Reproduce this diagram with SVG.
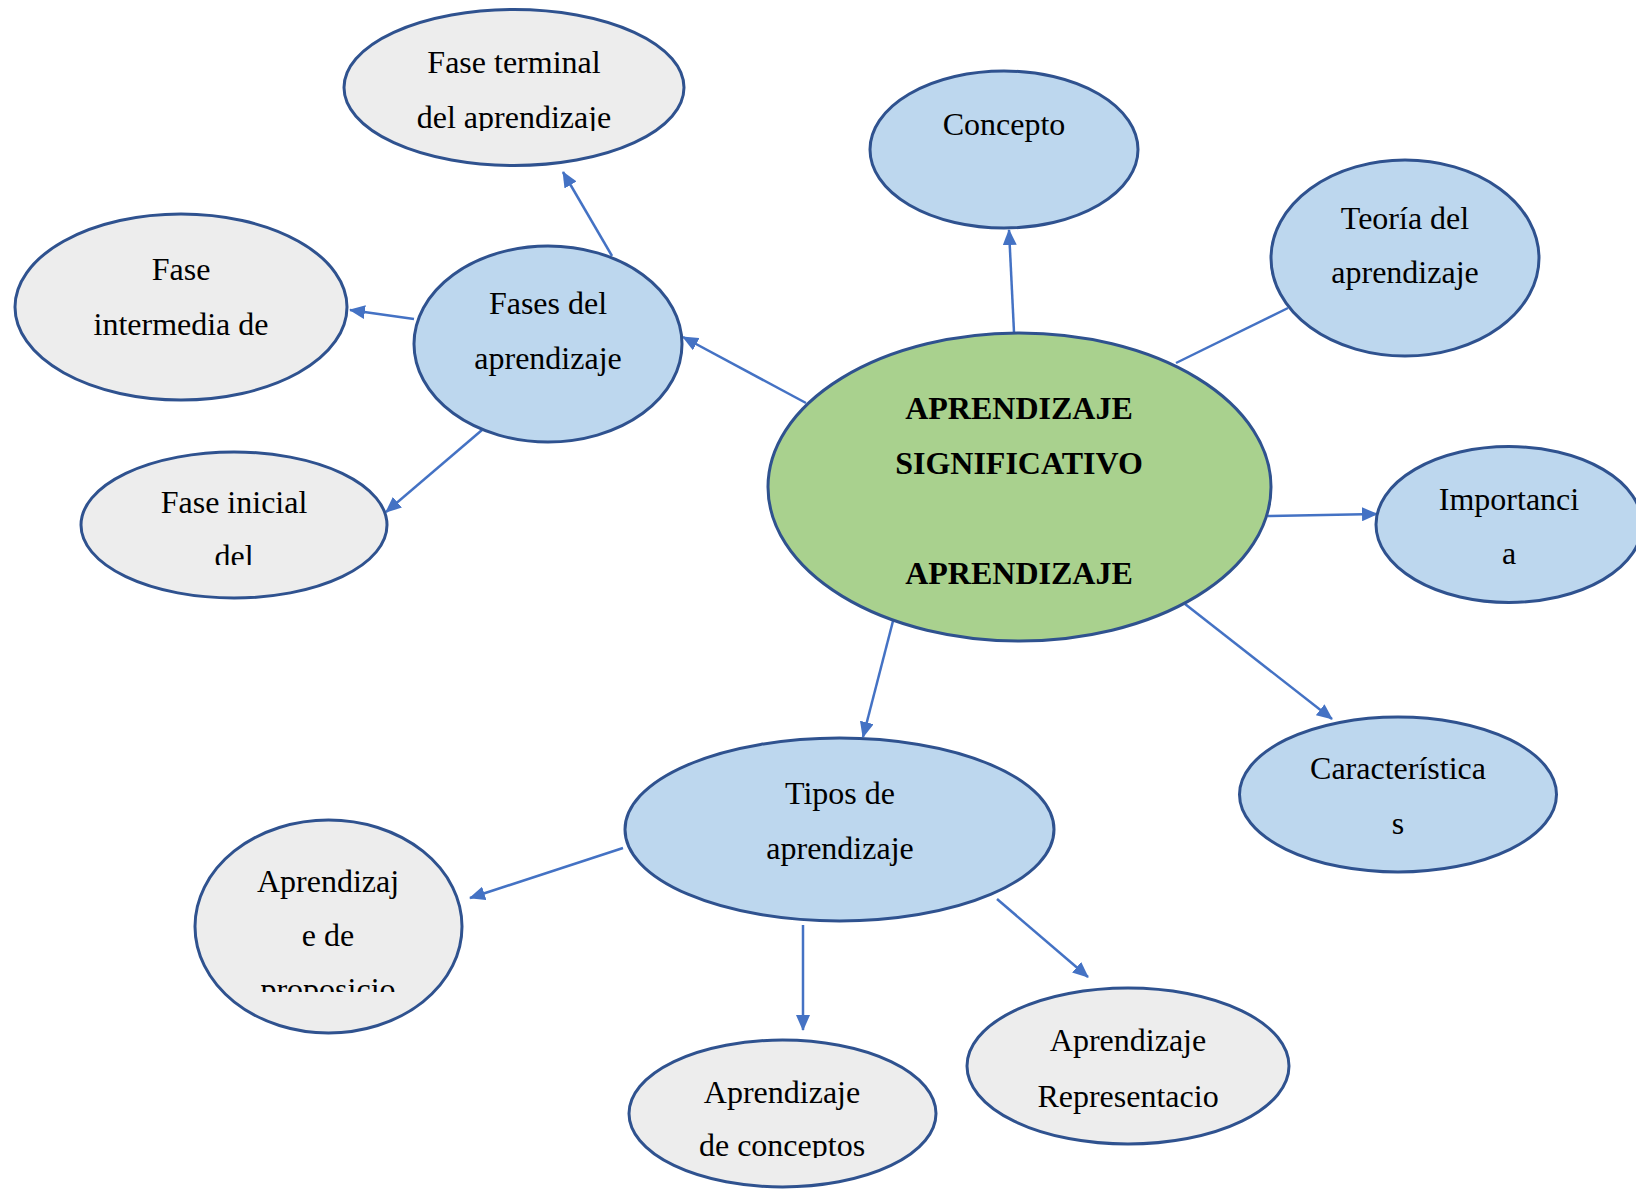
<svg xmlns="http://www.w3.org/2000/svg" width="1636" height="1189" viewBox="0 0 1636 1189">
<style>
.n ellipse{stroke:#2F528F;stroke-width:3}
.blue{fill:#BDD7EE}
.gray{fill:#EDEDED}
.green{fill:#A9D18E}
text{font-family:"Liberation Serif","Times New Roman",serif;font-size:32px;fill:#000;text-anchor:middle}
.b{font-weight:bold}
#connectors line{stroke:#4472C4;stroke-width:2.5;fill:none}
</style>
<defs>
<marker id="ah" markerUnits="userSpaceOnUse" markerWidth="16" markerHeight="14" refX="15" refY="7" orient="auto">
<path d="M0,0 L16,7 L0,14 z" fill="#4472C4"/>
</marker>
<clipPath id="c-term"><rect x="300" y="0" width="450" height="131"/></clipPath>
<clipPath id="c-ini"><rect x="60" y="440" width="360" height="125"/></clipPath>
<clipPath id="c-prop"><rect x="180" y="800" width="300" height="192"/></clipPath>
<clipPath id="c-conc"><rect x="600" y="1030" width="360" height="128"/></clipPath>
</defs>
<rect width="1636" height="1189" fill="#fff"/>
<g id="connectors">
<line x1="1014" y1="332" x2="1009" y2="230" marker-end="url(#ah)"/>
<line x1="1176" y1="363" x2="1288" y2="308"/>
<line x1="806" y1="403" x2="683" y2="337" marker-end="url(#ah)"/>
<line x1="612" y1="256" x2="563" y2="172" marker-end="url(#ah)"/>
<line x1="414" y1="319" x2="350" y2="310" marker-end="url(#ah)"/>
<line x1="482" y1="430" x2="386" y2="512" marker-end="url(#ah)"/>
<line x1="1268" y1="516" x2="1377" y2="514" marker-end="url(#ah)"/>
<line x1="1185" y1="604" x2="1332" y2="719" marker-end="url(#ah)"/>
<line x1="893" y1="621" x2="863" y2="737" marker-end="url(#ah)"/>
<line x1="623" y1="848" x2="470" y2="898" marker-end="url(#ah)"/>
<line x1="803" y1="925" x2="803" y2="1030" marker-end="url(#ah)"/>
<line x1="997" y1="899" x2="1088" y2="977" marker-end="url(#ah)"/>
</g>
<g id="central" class="n">
<ellipse class="green" cx="1019.5" cy="487" rx="251.5" ry="154"/>
<text class="b" x="1019" y="419">APRENDIZAJE</text>
<text class="b" x="1019" y="474">SIGNIFICATIVO</text>
<text class="b" x="1019" y="584">APRENDIZAJE</text>
</g>
<g id="concepto" class="n">
<ellipse class="blue" cx="1004" cy="149.5" rx="134" ry="78.5"/>
<text x="1004" y="135">Concepto</text>
</g>
<g id="teoria" class="n">
<ellipse class="blue" cx="1405" cy="258" rx="134" ry="98"/>
<text x="1405" y="229">Teoría del</text>
<text x="1405" y="283">aprendizaje</text>
</g>
<g id="importancia" class="n">
<ellipse class="blue" cx="1509" cy="524.5" rx="133" ry="78"/>
<text x="1509" y="510">Importanci</text>
<text x="1509" y="564">a</text>
</g>
<g id="caracteristicas" class="n">
<ellipse class="blue" cx="1398" cy="794.5" rx="158.5" ry="77.5"/>
<text x="1398" y="779">Característica</text>
<text x="1398" y="834">s</text>
</g>
<g id="tipos" class="n">
<ellipse class="blue" cx="839.5" cy="829.5" rx="214.5" ry="91.5"/>
<text x="840" y="804">Tipos de</text>
<text x="840" y="859">aprendizaje</text>
</g>
<g id="representacion" class="n">
<ellipse class="gray" cx="1128" cy="1066" rx="161" ry="78"/>
<text x="1128" y="1051">Aprendizaje</text>
<text x="1128" y="1107">Representacio</text>
</g>
<g id="conceptos" class="n">
<ellipse class="gray" cx="782.5" cy="1113.5" rx="153.5" ry="73.5"/>
<g clip-path="url(#c-conc)">
<text x="782" y="1103">Aprendizaje</text>
<text x="782" y="1156">de conceptos</text>
</g>
</g>
<g id="proposiciones" class="n">
<ellipse class="gray" cx="328.5" cy="926.5" rx="133.5" ry="106.5"/>
<g clip-path="url(#c-prop)">
<text x="328" y="892">Aprendizaj</text>
<text x="328" y="946">e de</text>
<text x="328" y="1000">proposicio</text>
</g>
</g>
<g id="fases" class="n">
<ellipse class="blue" cx="548" cy="344" rx="134" ry="98"/>
<text x="548" y="314">Fases del</text>
<text x="548" y="369">aprendizaje</text>
</g>
<g id="terminal" class="n">
<ellipse class="gray" cx="514" cy="87.5" rx="170" ry="78"/>
<g clip-path="url(#c-term)">
<text x="514" y="73">Fase terminal</text>
<text x="514" y="128">del aprendizaje</text>
</g>
</g>
<g id="intermedia" class="n">
<ellipse class="gray" cx="181" cy="307" rx="166" ry="93"/>
<text x="181" y="280">Fase</text>
<text x="181" y="335">intermedia de</text>
</g>
<g id="inicial" class="n">
<ellipse class="gray" cx="234" cy="525" rx="153" ry="73"/>
<g clip-path="url(#c-ini)">
<text x="234" y="513">Fase inicial</text>
<text x="234" y="567">del</text>
</g>
</g>
</svg>
